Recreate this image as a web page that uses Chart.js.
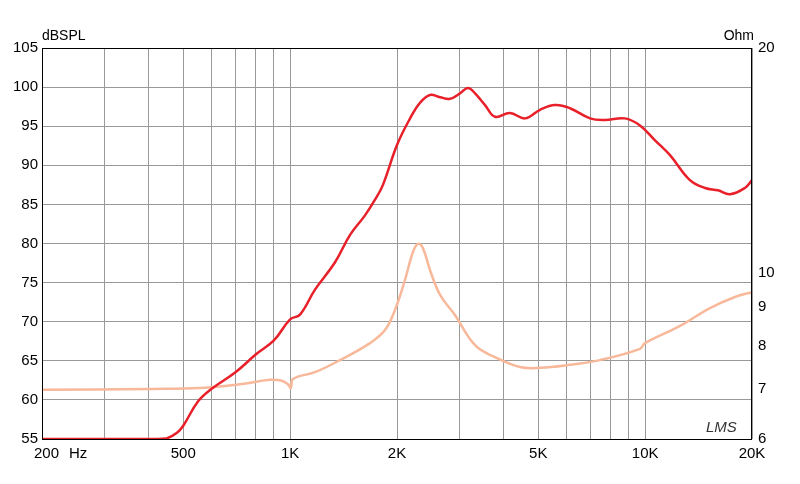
<!DOCTYPE html>
<html><head><meta charset="utf-8">
<script src="https://cdn.jsdelivr.net/npm/chart.js@4"></script>
<style>html,body{margin:0;padding:0;background:#fff}#w{width:800px;height:484px}</style>
</head><body><div id="w"><canvas id="c"></canvas></div>
<script>
const splFreq=[200,300,420,450,480,500,550,600,700,800,900,1000,1066,1175,1338,1475,1625,1734,1826,2000,2177,2322,2478,2645,2822,3009,3170,3318,3540,3777,4160,4588,5060,5572,6140,6996,7708,8770,9670,10660,11750,13370,14750,16040,17340,19100,20000];
const splDb=[55,55,55,55.1,55.8,56.7,59.8,61.4,63.5,65.8,67.6,70.3,70.9,74.1,77.6,81.1,83.6,85.6,87.5,92.6,96.0,98.0,99.0,98.7,98.5,99.2,99.9,99.2,97.7,96.2,96.7,96.0,97.1,97.7,97.3,96.0,95.8,96.0,95.1,93.2,91.3,88.1,87.1,86.8,86.3,87.1,88.1];
const impFreq=[200,403,557,722,877,948,986,1005,1019,1175,1382,1679,1850,1974,2106,2218,2292,2366,2478,2645,2912,3318,3777,4440,5060,6140,7460,9670,9990,12540,15230,17910,20000];
const impOhm=[6.98,7.0,7.02,7.1,7.2,7.18,7.1,7.02,7.22,7.37,7.65,8.06,8.39,8.93,9.79,10.67,10.94,10.8,10.09,9.35,8.79,8.01,7.72,7.49,7.47,7.54,7.65,7.92,8.06,8.5,8.98,9.29,9.43];
const xGrid=[200,300,400,500,600,700,800,900,1000,2000,3000,4000,5000,6000,7000,8000,9000,10000,20000];
const xLabels={500:'500',1000:'1K',2000:'2K',5000:'5K',10000:'10K',20000:'20K'};
const rightTicks=[6,7,8,9,10,20];
const F='Liberation Sans, Arial, sans-serif';
const extra={id:'extra',afterDraw(ch){const c=ch.ctx,a=ch.chartArea;c.save();c.fillStyle='#000';c.font='14px '+F;c.textBaseline='alphabetic';
c.textAlign='left';c.fillText('dBSPL',42,40);c.textAlign='right';c.fillText('Ohm',754,40);
c.font='15px '+F;c.textAlign='left';c.fillText('200',34,458);c.fillText('Hz',69,458);
c.font='italic 15px '+F;c.fillStyle='#333';c.fillText('LMS',706,432);
c.strokeStyle='#000';c.lineWidth=1;c.strokeRect(a.left+0.5,a.top+0.5,a.right-a.left-1,a.bottom-a.top);c.restore();}};
new Chart(document.getElementById('c'),{type:'scatter',
data:{datasets:[
{data:splFreq.map((f,i)=>({x:f,y:splDb[i]})),showLine:true,borderColor:'#e8202a',borderWidth:2.5,pointRadius:0,tension:0.4,yAxisID:'y'},
{data:impFreq.map((f,i)=>({x:f,y:impOhm[i]})),showLine:true,borderColor:'#f8b89a',borderWidth:2.5,pointRadius:0,tension:0.4,yAxisID:'y2'}]},
options:{responsive:true,maintainAspectRatio:false,animation:false,events:[],
layout:{padding:{top:48,left:0,right:0,bottom:0}},
plugins:{legend:{display:false},tooltip:{enabled:false}},
scales:{
x:{type:'logarithmic',min:200,max:20000,afterBuildTicks(s){s.ticks=xGrid.map(v=>({value:v}));},
 afterFit(s){s.height=45;},
 ticks:{autoSkip:false,maxRotation:0,color:'#000',font:{family:F,size:15},padding:6,callback:v=>xLabels[v]||''},
 grid:{color:'#999',drawTicks:false},border:{display:false}},
y:{min:55,max:105,afterFit(s){s.width=42;},ticks:{stepSize:5,color:'#000',font:{family:F,size:15},padding:4},grid:{color:'#999',drawTicks:false},border:{display:false}},
y2:{type:'logarithmic',position:'right',min:6,max:20,afterFit(s){s.width=48;},afterBuildTicks(s){s.ticks=rightTicks.map(v=>({value:v}));},
 ticks:{color:'#000',font:{family:F,size:15},padding:6,callback:v=>String(v)},grid:{display:false,drawTicks:false},border:{display:false}}}},
plugins:[extra]});
</script></body></html>
